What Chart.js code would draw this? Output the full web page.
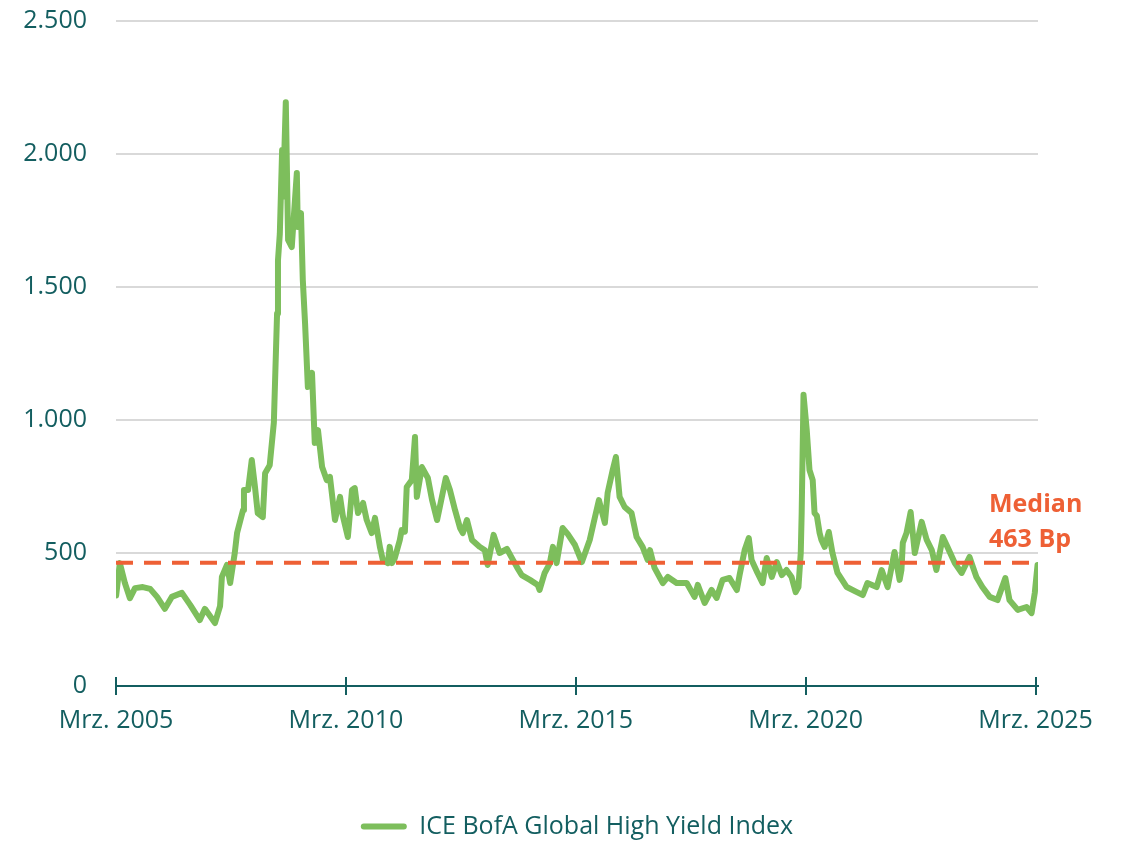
<!DOCTYPE html>
<html lang="de">
<head>
    <meta charset="UTF-8">
    <title>ICE BofA Global High Yield Index</title>
    <script src="https://cdn.jsdelivr.net/npm/chart.js"></script>
    <style>
        html, body { margin: 0; padding: 0; background: #fff; }
        #wrap { width: 1123px; height: 841px; }
    </style>
</head>
<body>
<div id="wrap"><canvas id="spreadChart" width="1123" height="841"></canvas></div>
<script>
// Zeitachse in Dezimaljahren
var yearFrac = [
    2005.17, 2005.25, 2005.36, 2005.47, 2005.58, 2005.75, 2005.91, 2006.06, 2006.23, 2006.38,
    2006.60, 2006.78, 2006.99, 2007.10, 2007.32, 2007.43, 2007.47, 2007.58, 2007.65, 2007.75,
    2007.80, 2007.93, 2007.95, 2008.04, 2008.12, 2008.19, 2008.25, 2008.36, 2008.41, 2008.51,
    2008.60, 2008.67, 2008.69, 2008.73, 2008.78, 2008.80, 2008.86, 2008.91, 2008.99, 2009.04,
    2009.10, 2009.12, 2009.19, 2009.23, 2009.28, 2009.34, 2009.43, 2009.49, 2009.56, 2009.65,
    2009.75, 2009.82, 2009.93, 2010.04, 2010.10, 2010.21, 2010.30, 2010.36, 2010.43, 2010.54,
    2010.62, 2010.73, 2010.80, 2010.91, 2010.97, 2011.08, 2011.12, 2011.17, 2011.23, 2011.34,
    2011.38, 2011.45, 2011.49, 2011.60, 2011.67, 2011.71, 2011.82, 2011.95, 2012.04, 2012.15,
    2012.21, 2012.34, 2012.43, 2012.54, 2012.65, 2012.71, 2012.80, 2012.91, 2013.08, 2013.19,
    2013.25, 2013.38, 2013.51, 2013.67, 2013.80, 2013.91, 2013.99, 2014.17, 2014.34, 2014.38,
    2014.49, 2014.60, 2014.67, 2014.75, 2014.88, 2014.99, 2015.15, 2015.30, 2015.47, 2015.58,
    2015.67, 2015.80, 2015.86, 2015.97, 2016.04, 2016.12, 2016.23, 2016.38, 2016.49, 2016.62,
    2016.73, 2016.78, 2016.88, 2017.06, 2017.17, 2017.36, 2017.58, 2017.75, 2017.82, 2017.97,
    2018.12, 2018.23, 2018.36, 2018.51, 2018.67, 2018.73, 2018.84, 2018.93, 2018.99, 2019.12,
    2019.23, 2019.32, 2019.43, 2019.54, 2019.65, 2019.75, 2019.86, 2019.95, 2020.01, 2020.06,
    2020.08, 2020.12, 2020.19, 2020.25, 2020.32, 2020.36, 2020.41, 2020.47, 2020.51, 2020.58,
    2020.67, 2020.75, 2020.86, 2021.06, 2021.28, 2021.41, 2021.51, 2021.71, 2021.82, 2021.95,
    2022.10, 2022.21, 2022.25, 2022.28, 2022.36, 2022.45, 2022.54, 2022.69, 2022.80, 2022.91,
    2023.01, 2023.15, 2023.25, 2023.41, 2023.56, 2023.73, 2023.88, 2024.01, 2024.17, 2024.34,
    2024.51, 2024.60, 2024.78, 2024.97, 2025.08, 2025.15, 2025.21
];

// Spread in Basispunkten
var spreadBp = [
    340, 462, 387, 330, 368, 372, 365, 335, 290, 335,
    350, 305, 248, 290, 237, 300, 410, 455, 387, 500,
    575, 662, 737, 737, 850, 748, 650, 635, 800, 830,
    990, 1400, 1600, 1700, 2015, 1840, 2195, 1677, 1650, 1778,
    1929, 1726, 1778, 1526, 1360, 1124, 1177, 914, 962, 823,
    774, 786, 624, 711, 640, 560, 737, 744, 650, 688,
    624, 575, 632, 520, 474, 462, 523, 462, 480, 549,
    586, 580, 748, 774, 936, 711, 823, 782, 700, 624,
    673, 782, 737, 662, 594, 575, 624, 549, 523, 510,
    455, 568, 500, 515, 474, 440, 417, 399, 380, 361,
    425, 460, 523, 462, 594, 572, 530, 466, 549, 632,
    699, 613, 726, 812, 861, 711, 673, 650, 560, 523,
    474, 511, 444, 387, 410, 387, 387, 335, 380, 312,
    361, 331, 399, 406, 361, 417, 511, 556, 474, 425,
    387, 481, 410, 466, 417, 436, 410, 353, 372, 500,
    650, 1095, 962, 812, 774, 650, 640, 575, 549, 523,
    579, 500, 425, 372, 353, 342, 387, 372, 436, 372,
    504, 399, 436, 538, 575, 654, 500, 617, 549, 511,
    436, 560, 523, 462, 425, 485, 410, 372, 335, 323,
    406, 323, 286, 297, 274, 350, 455
];

var medianBp = 463;
var seriesName = 'ICE BofA Global High Yield Index';
var medianLines = ['Median', '463 Bp'];

var tickYears = [2005.167, 2010.167, 2015.167, 2020.167, 2025.167];
var tickLabels = ['Mrz. 2005', 'Mrz. 2010', 'Mrz. 2015', 'Mrz. 2020', 'Mrz. 2025'];
var yTickLabels = { 0: '0', 500: '500', 1000: '1.000', 1500: '1.500', 2000: '2.000', 2500: '2.500' };

var teal = '#135E60';
var green = '#7DBE5C';
var orange = '#EE6035';
var fontFamily = '"Open Sans", "DejaVu Sans", sans-serif';
var fontSize = 25;

var seriesPoints = yearFrac.map(function (t, i) { return { x: t, y: spreadBp[i] }; });
var medianPoints = [{ x: 2005.167, y: medianBp }, { x: 2025.22, y: medianBp }];

// kleine Striche an der x-Achse (oben und unten) + Median-Beschriftung
var extras = {
    id: 'extras',
    afterDraw: function (chart) {
        var ctx = chart.ctx;
        var xs = chart.scales.x;
        var ys = chart.scales.y;
        var y0 = ys.getPixelForValue(0);
        ctx.save();
        ctx.strokeStyle = teal;
        ctx.lineWidth = 2;
        tickYears.forEach(function (t) {
            var px = Math.round(xs.getPixelForValue(t));
            ctx.beginPath();
            ctx.moveTo(px, y0 - 9);
            ctx.lineTo(px, y0 + 9);
            ctx.stroke();
        });
        var my = ys.getPixelForValue(medianBp);
        ctx.fillStyle = orange;
        ctx.font = 'bold ' + fontSize + 'px ' + fontFamily;
        ctx.textAlign = 'left';
        ctx.textBaseline = 'middle';
        ctx.fillText(medianLines[0], 989, my - 58);
        ctx.fillText(medianLines[1], 989, my - 23);
        ctx.restore();
    }
};

var ctx = document.getElementById('spreadChart').getContext('2d');
var spreadChart = new Chart(ctx, {
    type: 'line',
    data: {
        datasets: [{
            label: seriesName,
            data: seriesPoints,
            borderColor: green,
            backgroundColor: green,
            borderWidth: 6,
            pointRadius: 0,
            tension: 0,
            borderJoinStyle: 'round',
            borderCapStyle: 'round',
            order: 1
        }, {
            label: 'Median',
            data: medianPoints,
            borderColor: orange,
            borderWidth: 4,
            borderDash: [17, 11],
            pointRadius: 0,
            order: 0
        }]
    },
    options: {
        responsive: false,
        animation: false,
        layout: { padding: { left: 0, right: 85, top: 21, bottom: 0 } },
        scales: {
            x: {
                type: 'linear',
                min: 2005.167,
                max: 2025.22,
                afterBuildTicks: function (scale) {
                    scale.ticks = tickYears.map(function (v) { return { value: v }; });
                },
                afterFit: function (scale) { scale.height = 128; },
                grid: { display: false, drawTicks: false },
                border: { display: true, color: teal, width: 2 },
                ticks: {
                    autoSkip: false,
                    maxRotation: 0,
                    padding: 20,
                    color: teal,
                    font: { family: fontFamily, size: fontSize },
                    callback: function (value, index) { return tickLabels[index]; }
                }
            },
            y: {
                min: 0,
                max: 2500,
                afterFit: function (scale) { scale.width = 116; },
                border: { display: false },
                grid: {
                    drawTicks: true,
                    tickLength: 29,
                    tickColor: 'rgba(0,0,0,0)',
                    lineWidth: 2,
                    color: function (c) { return c.tick && c.tick.value === 0 ? 'rgba(0,0,0,0)' : '#D9D9D9'; }
                },
                ticks: {
                    stepSize: 500,
                    padding: 0,
                    color: teal,
                    font: { family: fontFamily, size: fontSize },
                    callback: function (value) { return yTickLabels[value]; }
                }
            }
        },
        plugins: {
            tooltip: { enabled: false },
            legend: {
                position: 'bottom',
                fullSize: false,
                maxHeight: 27,
                labels: {
                    color: teal,
                    font: { family: fontFamily, size: fontSize },
                    boxWidth: 46,
                    boxHeight: 6,
                    padding: 0,
                    useBorderRadius: true,
                    borderRadius: 3,
                    filter: function (item) { return item.datasetIndex === 0; },
                    generateLabels: function (chart) {
                        var items = Chart.defaults.plugins.legend.labels.generateLabels(chart);
                        items.forEach(function (it) { it.lineWidth = 0; it.fillStyle = green; });
                        return items;
                    }
                }
            }
        }
    },
    plugins: [extras]
});
</script>
</body>
</html>
